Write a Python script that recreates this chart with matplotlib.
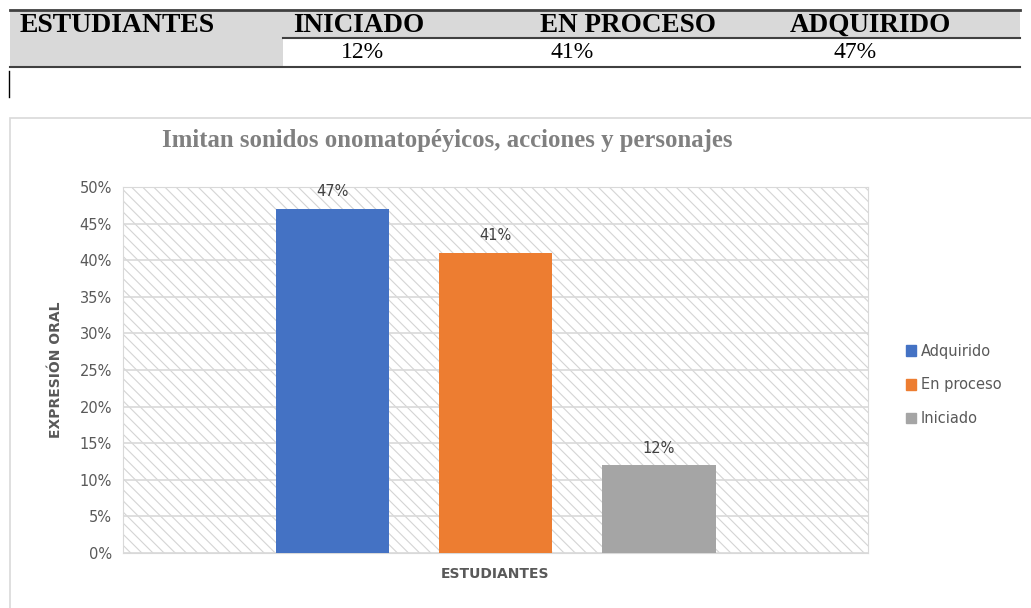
import matplotlib.pyplot as plt
from matplotlib.patches import Rectangle
from matplotlib.lines import Line2D

# datos
niveles = ['Adquirido', 'En proceso', 'Iniciado']
porcentajes = [47, 41, 12]
colores = ['#4472C4', '#ED7D31', '#A5A5A5']
tabla_cols = ['INICIADO', 'EN PROCESO', 'ADQUIRIDO']
tabla_vals = ['12%', '41%', '47%']
yticks = [0, 5, 10, 15, 20, 25, 30, 35, 40, 45, 50]

W, H = 1031, 608
fig = plt.figure(figsize=(W / 100, H / 100), dpi=100)

def fx(px):
    return px / W

def fy(py):
    return 1 - py / H

# ---- tabla de arriba ----
serif = 'Liberation Serif'
fig.patches.append(Rectangle((fx(10), fy(67)), fx(1010), (67 - 10) / H,
                             facecolor='#d9d9d9', edgecolor='none', transform=fig.transFigure))
fig.patches.append(Rectangle((fx(283), fy(67)), fx(737), (67 - 38) / H,
                             facecolor='white', edgecolor='none', transform=fig.transFigure))
fig.lines.append(Line2D([fx(10), fx(1020)], [fy(10), fy(10)], color='#404040', lw=2, transform=fig.transFigure))
fig.lines.append(Line2D([fx(283), fx(1020)], [fy(38), fy(38)], color='#404040', lw=1.5, transform=fig.transFigure))
fig.lines.append(Line2D([fx(10), fx(1020)], [fy(67), fy(67)], color='#404040', lw=1.5, transform=fig.transFigure))
fig.lines.append(Line2D([fx(9), fx(9)], [fy(71), fy(97)], color='black', lw=1, transform=fig.transFigure))

fig.text(fx(20), fy(25), 'ESTUDIANTES', family=serif, weight='bold', fontsize=20, va='center', ha='left')
for txt, x in zip(tabla_cols, [293, 540, 790]):
    fig.text(fx(x), fy(25), txt, family=serif, weight='bold', fontsize=19.5, va='center', ha='left')
for txt, x in zip(tabla_vals, [362, 572, 855]):
    fig.text(fx(x), fy(53), txt, family=serif, fontsize=17, va='center', ha='center')

# ---- marco del grafico ----
marco = Rectangle((fx(10), fy(620)), fx(1030), (620 - 118) / H, facecolor='white',
                  edgecolor='#d9d9d9', lw=1.2, transform=fig.transFigure, zorder=-5)
fig.patches.append(marco)

fig.text(fx(447), fy(140), 'Imitan sonidos onomatopéyicos, acciones y personajes',
         family=serif, weight='bold', fontsize=17.8, color='#808080', ha='center', va='center')

# ---- grafico ----
plt.rcParams['hatch.linewidth'] = 0.8
ax = fig.add_axes([fx(123), fy(553), fx(868 - 123), (553 - 187) / H])
ax.set_zorder(2)
ax.set_facecolor('white')
ax.add_patch(Rectangle((0, 0), 1, 1, transform=ax.transAxes, facecolor='white',
                       edgecolor='#d4d4d4', hatch='\\' * 3, lw=0, zorder=0))

posiciones = [0.281, 0.5, 0.7195]
barras = ax.bar(posiciones, porcentajes, width=0.152, color=colores, zorder=3)
for b, v in zip(barras, porcentajes):
    ax.text(b.get_x() + b.get_width() / 2, v + 1.3, f'{v}%', ha='center', va='bottom',
            fontsize=10.5, color='#404040', zorder=4)

ax.set_xlim(0, 1)
ax.set_ylim(0, 50)
ax.set_yticks(yticks)
ax.set_yticklabels([f'{t}%' for t in yticks], fontsize=10.5, color='#595959')
ax.set_xticks([0.5])
ax.set_xticklabels(['ESTUDIANTES'], fontsize=10, color='#595959', weight='bold')
ax.tick_params(length=0, pad=8)
ax.tick_params(axis='x', pad=10)
ax.grid(axis='y', color='#d9d9d9', lw=1.2, zorder=1)
for s in ax.spines.values():
    s.set_color('#d9d9d9')

ax.set_ylabel('EXPRESIÓN ORAL', fontsize=10, weight='bold', color='#595959', labelpad=12)

handles = [Rectangle((0, 0), 1, 1, color=c) for c in colores]
fig.legend(handles, niveles, loc='center left', bbox_to_anchor=(fx(893), fy(385)),
           frameon=False, fontsize=10.5, labelcolor='#595959', handlelength=0.7,
           handleheight=0.7, handletextpad=0.3, labelspacing=1.3)

fig.savefig('out.png', dpi=100)
